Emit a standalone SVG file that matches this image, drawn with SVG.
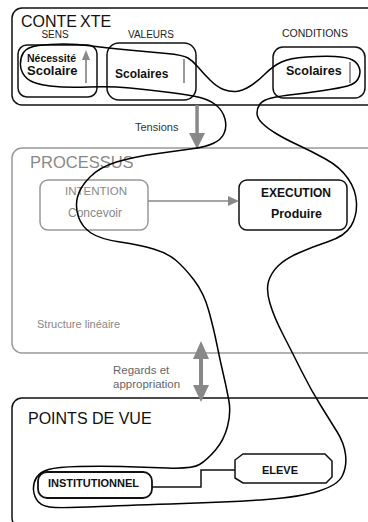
<svg xmlns="http://www.w3.org/2000/svg" width="368" height="522" viewBox="0 0 368 522">
<style>
text{font-family:"Liberation Sans",Arial,sans-serif;}
.big{font-size:16px;fill:#111;}
.lab{font-size:10px;fill:#222;}
.b{font-weight:bold;fill:#111;}
.g{fill:#888;}
.box{fill:none;stroke:#111;stroke-width:1.5;}
.gbox{fill:none;stroke:#999;stroke-width:1.5;}
.gl{stroke:#999;stroke-width:2;fill:none;}
.ga{fill:#888;stroke:none;}
.loop{fill:none;stroke:#000;stroke-width:1.5;stroke-linejoin:round;}
</style>
<rect width="368" height="522" fill="#fff"/>
<g id="contexte">
<rect class="box" x="12" y="8" width="372" height="97" rx="10"/>
<text class="big" x="21" y="27">CONTE<tspan dx="3">XTE</tspan></text>
<text class="lab" x="55" y="38" text-anchor="middle">SENS</text>
<text class="lab" x="151" y="38" text-anchor="middle">VALEURS</text>
<text class="lab" x="315" y="37" text-anchor="middle" style="font-size:10.5px">CONDITIONS</text>
</g>
<g id="sens">
<rect class="box" x="18" y="45" width="79" height="52" rx="9"/>
<text class="b" x="27" y="62" style="font-size:10.5px">Nécessité</text>
<text class="b" x="27" y="75" style="font-size:13px">Scolaire</text>
<line class="gl" x1="86" y1="83" x2="86" y2="58"/>
<polygon class="ga" points="82,60 86,50 90,60"/>
</g>
<g id="valeurs">
<rect class="box" x="107" y="43" width="89" height="57" rx="12"/>
<text class="b" x="115" y="78" style="font-size:12px">Scolaires</text>
<line class="gl" x1="184" y1="59" x2="184" y2="83"/>
</g>
<g id="conditions">
<rect class="box" x="273" y="47" width="92" height="51" rx="10"/>
<text class="b" x="286" y="75" style="font-size:12.5px">Scolaires</text>
<line class="gl" x1="350" y1="62" x2="350" y2="83"/>
</g>
<g id="processus">
<rect class="gbox" x="12" y="148" width="372" height="205" rx="10"/>
<text class="g" x="30" y="168" style="font-size:16.5px">PROCESSUS</text>
<text class="g" x="37" y="328" style="font-size:11px">Structure linéaire</text>
</g>
<g id="intention">
<rect class="gbox" x="40" y="180" width="108" height="50" rx="8"/>
<text class="g" x="96" y="195" text-anchor="middle" style="font-size:11.5px">INTENTION</text>
<text class="g" x="95" y="217" text-anchor="middle" style="font-size:12px">Concevoir</text>
</g>
<g id="execution">
<rect class="box" x="239" y="180" width="108" height="50" rx="8"/>
<text class="b" x="296" y="197" text-anchor="middle" style="font-size:12px">EXECUTION</text>
<text class="b" x="296.5" y="218" text-anchor="middle" style="font-size:12.4px">Produire</text>
</g>
<g id="points-de-vue">
<rect class="box" x="12" y="398" width="372" height="130" rx="10"/>
<text class="big" x="28" y="424">POINTS DE VUE</text>
</g>
<g id="institutionnel">
<rect class="box" x="38" y="472" width="114" height="26" rx="9" style="stroke-width:1.8"/>
<text class="b" x="48" y="487" style="font-size:11px">INSTITUTIONNEL</text>
</g>
<g id="eleve">
<polygon class="box" points="243,454 325,454 332,461 332,477 326,483 243,483 235,478 235,460"/>
<text class="b" x="280" y="474" text-anchor="middle" style="font-size:11px">ELEVE</text>
</g>
<g id="connectors">
<text x="135" y="131" style="font-size:11px;fill:#333">Tensions</text>
<rect class="ga" x="195.3" y="105" width="3.5" height="30"/>
<polygon class="ga" points="189,133 205,133 197,149"/>
<line x1="148" y1="201" x2="230" y2="201" stroke="#888" stroke-width="1.5"/>
<polygon class="ga" points="228,196 239,201 228,206"/>
<text x="113" y="374" style="font-size:11.5px;fill:#666">Regards et</text>
<text x="113" y="388" style="font-size:11.5px;fill:#666">appropriation</text>
<rect class="ga" x="199" y="356" width="4" height="32"/>
<polygon class="ga" points="193,359 201,341 209,359"/>
<polygon class="ga" points="193,385 201,402 209,385"/>
<polyline fill="none" stroke="#111" stroke-width="1.5" points="152,487 201,487 201,470 235,470"/>
</g>
<g id="loop">
<path class="loop" d="M23.5 52.5 Q27 47 38.5 45.5 Q50 44 63.5 44 Q77 44 92 46 Q107 48 128.5 50 Q150 52 166.5 53.5 Q183 55 188 58 Q193 61 198 67 Q203 73 210 80 Q217 87 223.5 89.5 Q230 92 236 91.5 Q242 91 249.5 86.5 Q257 82 265 74 Q273 66 281.5 62 Q290 58 306.5 57 Q323 56 335 56.5 Q347 57 352.5 60 Q358 63 359.5 68.5 Q361 74 358 79 Q355 84 347.5 86 Q340 88 323.5 90.5 Q307 93 293.5 94.5 Q280 96 271.5 98 Q263 100 260 104 Q257 108 257 113 Q257 118 262 123 Q267 128 276 133.5 Q285 139 298 145 Q311 151 325.5 159 Q340 167 348 178.5 Q356 190 356.5 203 Q357 216 351 226 Q345 236 328.5 241.5 Q312 247 298.5 253 Q285 259 278 266 Q271 273 268.5 281.5 Q266 290 270 303.5 Q274 317 283 334.5 Q292 352 301.5 371 Q311 390 321 406 Q331 422 337.5 432.5 Q344 443 345.5 454.5 Q347 466 342.5 475.5 Q338 485 319 491 Q300 497 266.5 499.5 Q233 502 183 503.5 Q133 505 100 506.5 Q67 508 55 507.5 Q43 507 38.5 502 Q34 497 33.5 490 Q33 483 36.5 477.5 Q40 472 48.5 469.5 Q57 467 78.5 466.5 Q100 466 121.5 466.5 Q143 467 167.5 468 Q192 469 199.5 464.5 Q207 460 215.5 450 Q224 440 227.5 426.5 Q231 413 229 401.5 Q227 390 223.5 375 Q220 360 217 345 Q214 330 209 311.5 Q204 293 194 280 Q184 267 175.5 260 Q167 253 153.5 249 Q140 245 120 242 Q100 239 91 233 Q82 227 78.5 217 Q75 207 77.5 197 Q80 187 90 177 Q100 167 116.5 162 Q133 157 158 153.5 Q183 150 194 148.5 Q205 147 213 143.5 Q221 140 224 133.5 Q227 127 225 119 Q223 111 216.5 105.5 Q210 100 200 97.5 Q190 95 170 92.5 Q150 90 130 88 Q110 86 88.5 87 Q67 88 50 86 Q33 84 27 78.5 Q21 73 20.5 65.5 Q20 58 23.5 52.5 Z"/>
</g>
</svg>
